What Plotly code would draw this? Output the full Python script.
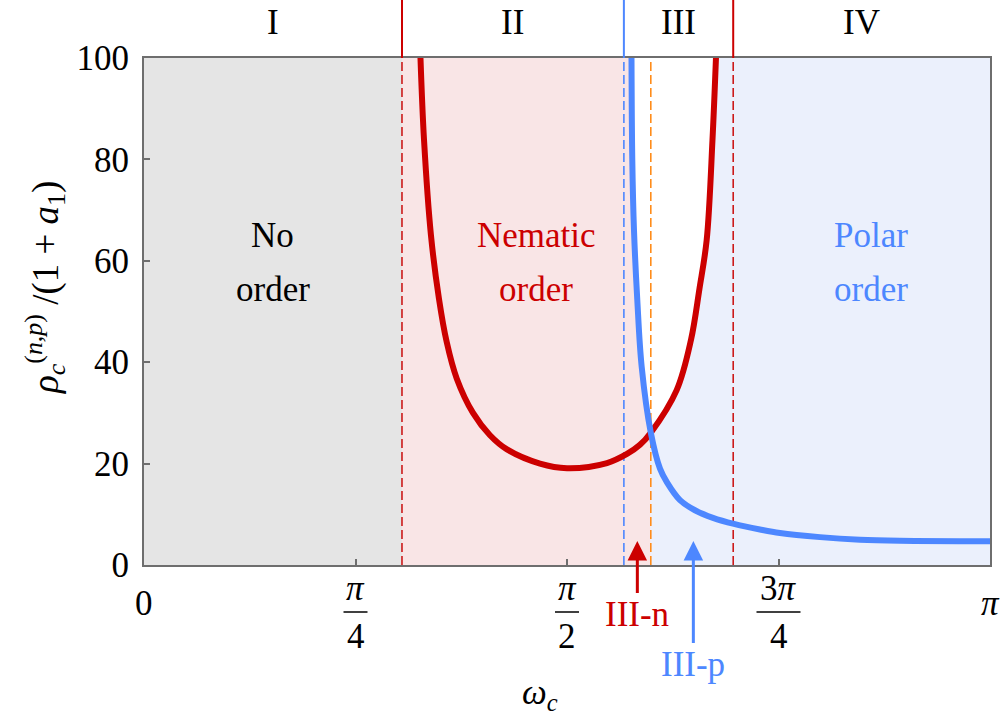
import math
import plotly.graph_objects as go

PI = math.pi

# ---------------- data ----------------
# phase boundaries (rad): I|II, start III (blue), III-n|III-p (orange), III|IV
boundaries = [0.958, 1.782, 1.882, 2.188]

# nematic critical density (red curve)
red_x = [1.0267, 1.0397, 1.0657, 1.0954, 1.1240, 1.1612, 1.2217, 1.2848, 1.3479,
         1.4705, 1.5707, 1.7193, 1.7935, 1.8418, 1.8820, 1.9781, 2.0312, 2.0627,
         2.0895, 2.1110, 2.1240]
red_y = [100.0, 84.0, 65.0, 52.5, 44.0, 36.8, 30.0, 25.6, 22.8,
         20.0, 19.1, 20.1, 21.9, 23.7, 26.1, 34.5, 44.4, 54.5,
         64.1, 83.8, 100.0]

# polar critical density (blue curve)
blue_x = [1.8103, 1.8132, 1.8196, 1.8318, 1.8481, 1.8820, 1.9161, 1.9421, 1.9903,
          2.0460, 2.1129, 2.1909, 2.2874, 2.3617, 2.5102, 2.6587, 2.8072, 3.1416]
blue_y = [100.0, 80.0, 66.0, 52.3, 39.1, 26.1, 19.0, 16.3, 12.8,
          10.8, 9.3, 8.1, 7.0, 6.3, 5.5, 5.0, 4.8, 4.7]

region_labels = ["I", "II", "III", "IV"]
x_tick_vals = [0, PI / 4, PI / 2, 3 * PI / 4, PI]
y_tick_vals = [0, 20, 40, 60, 80, 100]

# ---------------- styling ----------------
FONT = "Liberation Serif, serif"
FS = 35
RED = "#cc0000"
RED_D = "#cc1a1a"
BLUE = "#4d87ff"
ORANGE = "#ff8c1a"
GRAY_F = "#e5e5e5"
PINK_F = "#f9e5e6"
BLUE_F = "#ebf0fc"
AXC = "#6e6e6e"

W, H = 1006, 720
ML, MR, MT, MB = 144, 16, 58, 155
PW = W - ML - MR
PH = H - MT - MB


def py2paper(py):
    return (H - MB - py) / PH


def px2x(npx):
    return npx * PI / PW


fig = go.Figure()

b0, b1, b2, b3 = boundaries

# gray region I
fig.add_trace(go.Scatter(x=[0, b0, b0, 0], y=[0, 0, 100, 100], fill="toself",
                         fillcolor=GRAY_F, line=dict(width=0), mode="lines",
                         hoverinfo="skip", showlegend=False))
# pink region (nematic): up to blue curve / crossing
pk_x = [b0, b0] + [x for x in blue_x if x <= b2] + [b2]
pk_y = [0, 100] + [y for x, y in zip(blue_x, blue_y) if x <= b2] + [0]
fig.add_trace(go.Scatter(x=pk_x, y=pk_y, fill="toself", fillcolor=PINK_F,
                         line=dict(width=0), mode="lines", hoverinfo="skip",
                         showlegend=False))
# light blue region (polar)
bl_x = [b2] + [x for x in red_x if x >= b2] + [PI, PI]
bl_y = [0] + [y for x, y in zip(red_x, red_y) if x >= b2] + [100, 0]
fig.add_trace(go.Scatter(x=bl_x, y=bl_y, fill="toself", fillcolor=BLUE_F,
                         line=dict(width=0), mode="lines", hoverinfo="skip",
                         showlegend=False))

# dashed boundaries
dash_cols = [RED_D, BLUE, ORANGE, RED_D]
for b, c in zip(boundaries, dash_cols):
    fig.add_trace(go.Scatter(x=[b, b], y=[0, 100], mode="lines",
                             line=dict(color=c, width=1.6, dash="9px,4px"),
                             hoverinfo="skip", showlegend=False))

# curves
fig.add_trace(go.Scatter(x=red_x, y=red_y, mode="lines",
                         line=dict(color=RED, width=6, shape="spline", smoothing=1.0),
                         showlegend=False))
fig.add_trace(go.Scatter(x=blue_x, y=blue_y, mode="lines",
                         line=dict(color=BLUE, width=6, shape="spline", smoothing=1.0),
                         showlegend=False))

shapes = []
# solid lines above the plot marking the regions
for b, c in zip([b0, b1, b3], [RED, BLUE, RED]):
    shapes.append(dict(type="line", xref="x", yref="paper", x0=b, x1=b,
                       y0=1, y1=py2paper(0), line=dict(color=c, width=2)))

annotations = []


def text_at(x, pyy, t, color="black", size=FS, xref="x"):
    annotations.append(dict(x=x, y=py2paper(pyy), xref=xref, yref="paper",
                            text=t, showarrow=False, xanchor="center",
                            yanchor="middle",
                            font=dict(family=FONT, size=size, color=color)))


# region labels on top
edges = [0, b0, b1, b3, PI]
for i, lab in enumerate(region_labels):
    text_at((edges[i] + edges[i + 1]) / 2, 22, lab)

# in-plot labels
def two_line(x, l1, l2, color):
    text_at(x, 235, l1, color)
    text_at(x, 289, l2, color)


two_line((0 + b0) / 2, "No", "order", "black")
two_line(1.456, "Nematic", "order", RED)
two_line(2.70, "Polar", "order", BLUE)

# x tick labels (fractions)
text_at(x_tick_vals[0], 603, "0")
text_at(x_tick_vals[4], 603, "<i>π</i>")
for xv, num, den, bw in [(x_tick_vals[1], "<i>π</i>", "4", 24),
                         (x_tick_vals[2], "<i>π</i>", "2", 24),
                         (x_tick_vals[3], "3<i>π</i>", "4", 44)]:
    text_at(xv, 588, num)
    text_at(xv, 636, den)
    shapes.append(dict(type="line", xref="x", yref="paper",
                       x0=xv - px2x(bw / 2), x1=xv + px2x(bw / 2),
                       y0=py2paper(612), y1=py2paper(612),
                       line=dict(color="black", width=1.5)))

# axis titles
text_at((540 - ML) / PW, 694, "<i>ω</i><sub><i>c</i></sub>", xref="paper")
annotations.append(dict(x=(45 - ML) / PW, y=py2paper(288), xref="paper", yref="paper",
                        xanchor="center", yanchor="middle",
                        text="<i>ρ</i><sub><i>c</i></sub><sup>(<i>n,p</i>)</sup> /(1 + <i>a</i><sub>1</sub>)",
                        showarrow=False, textangle=-90,
                        font=dict(family=FONT, size=37, color="black")))

# arrows
arrow_specs = [("III-n", 1.832, RED, 73), ("III-p", 2.040, BLUE, 123)]
for t, xv, c, ay in arrow_specs:
    annotations.append(dict(x=xv, y=py2paper(541), xref="x", yref="paper",
                            text=t, showarrow=True, ax=0, ay=ay,
                            arrowcolor=c, arrowwidth=3, arrowhead=2, arrowsize=1.3,
                            font=dict(family=FONT, size=FS, color=c)))

fig.update_layout(
    width=W, height=H,
    margin=dict(l=ML, r=MR, t=MT, b=MB, pad=0),
    paper_bgcolor="white", plot_bgcolor="white",
    shapes=shapes, annotations=annotations,
    xaxis=dict(range=[0, PI], tickvals=x_tick_vals[1:4], showticklabels=False,
               ticks="inside", ticklen=6, tickcolor=AXC, tickwidth=1.5,
               showline=True, linecolor=AXC, linewidth=2, mirror=True,
               showgrid=False, zeroline=False, fixedrange=True),
    yaxis=dict(range=[0, 100], tickvals=y_tick_vals,
               ticktext=[str(v) for v in y_tick_vals],
               ticks="inside", ticklen=6, tickcolor=AXC, tickwidth=1.5,
               showline=True, linecolor=AXC, linewidth=2, mirror=True,
               showgrid=False, zeroline=False, ticklabelstandoff=6,
               tickfont=dict(family=FONT, size=FS, color="black"), fixedrange=True),
    font=dict(family=FONT, size=FS, color="black"),
)

fig.write_html("out.html")
